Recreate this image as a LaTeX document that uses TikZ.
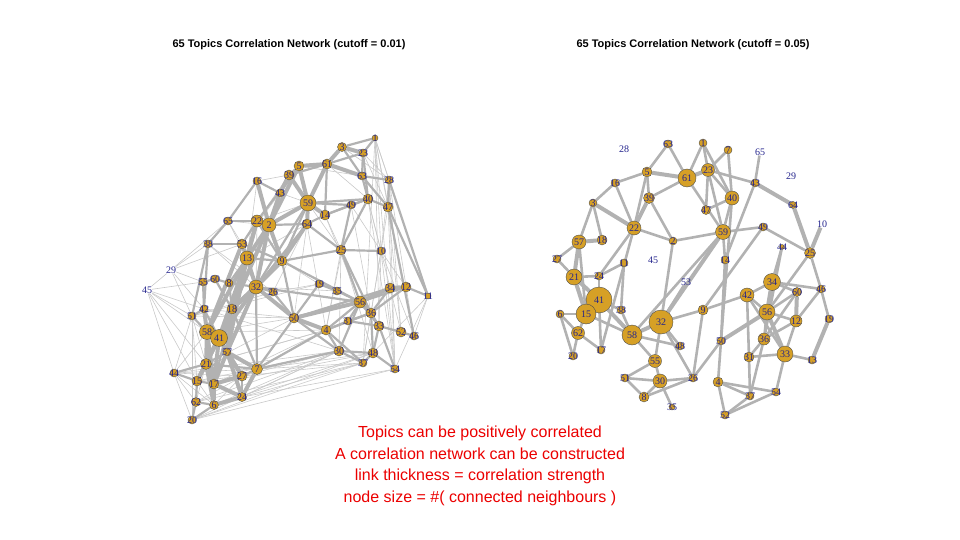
\documentclass[tikz,border=0pt]{standalone}
\usepackage{fontspec}
\setmainfont{Liberation Serif}
\newfontfamily\sansfont{Liberation Sans}
\usepackage{tikz}
\usetikzlibrary{backgrounds}
\usepackage{xcolor}
\definecolor{topicfill}{RGB}{214,160,38}
\definecolor{topiclabel}{RGB}{35,35,140}
\definecolor{linkgray}{RGB}{178,178,178}
\definecolor{notered}{RGB}{235,0,0}

\begin{document}
\begin{tikzpicture}[x=1pt, y=-1pt,
  topic/.style={circle, draw=black!70, line width=0.4pt, fill=topicfill, inner sep=0pt, minimum size=#1pt},
  tlabel/.style={text=topiclabel, font=\fontsize{10}{10}\selectfont, inner sep=0pt},
  biglink/.style={linkgray, line width=4pt},
  midlink/.style={linkgray, line width=2.2pt},
  thinlink/.style={linkgray!70, line width=0.6pt},
  heading/.style={font=\sansfont\bfseries\fontsize{11}{13}\selectfont}]
  \useasboundingbox (0,0) rectangle (960,540);

  % titles
  \node[heading] (titleL) at (289,45) {65 Topics Correlation Network (cutoff = 0.01)};
  \node[heading] (titleR) at (693,45) {65 Topics Correlation Network (cutoff = 0.05)};

  % left network (cutoff 0.01)
  \foreach \n/\x/\y/\s in {16/257/181/8, 39/289/175/10, 43/280/193/8, 65/228/221/8, 22/257/221/12,
    2/269/225/14, 38/208/244/8, 53/242/244/10, 13/247/258/14, 9/282/261/10, 1/375/138/6, 3/342/147/9,
    23/363/153/8, 5/299/166/10, 61/327/164/10, 63/362/176/8, 28/389/180/8, 59/308/203/16, 14/325/215/10,
    49/351/205/8, 40/368/199/10, 47/388/207/10, 64/307/224/10, 25/341/250/10, 10/381/251/8, 55/203/282/8,
    60/215/279/8, 8/229/283/8, 32/256/287/14, 26/273/292/8, 51/192/316/8, 42/204/309/8, 18/232/309/10,
    58/207/332/15, 41/219/338/17, 57/227/352/8, 21/206/364/11, 7/257/369/11, 44/174/373/8, 15/197/381/10,
    17/214/384/10, 27/242/376/10, 62/196/402/9, 6/214/405/9, 24/242/397/9, 20/192/420/8, 50/294/318/10,
    4/326/330/10, 56/360/302/12, 36/371/313/10, 31/348/321/8, 33/379/326/10, 52/401/332/10, 46/414/336/8,
    19/319/284/8, 35/337/291/8, 34/390/288/10, 12/406/287/10, 11/428/296/6, 30/339/351/10, 48/373/353/10,
    37/363/363/8, 54/395/369/8}
    \node[topic=\s, label={[tlabel]center:\n}] (L\n) at (\x,\y) {};
  \node[tlabel] (L29) at (171,270) {29};
  \node[tlabel] (L45) at (147,290) {45};

  \begin{scope}[on background layer]
    \foreach \a/\b in {29/38, 29/45, 29/55, 29/51, 45/51, 45/55, 45/44, 44/51, 44/62, 44/20, 44/27, 44/7,
      1/28, 1/47, 1/10, 1/11, 1/46, 1/54, 28/10, 28/46, 47/54, 47/52, 10/46, 10/54, 11/46, 11/54, 11/37,
      63/10, 40/52, 49/10, 49/36, 14/25, 64/50, 64/26, 25/4, 10/33, 10/12, 23/47, 3/28, 23/28,
      20/30, 20/37, 62/4, 6/30, 24/54, 24/37, 17/4, 27/30, 44/4, 20/48, 62/37, 15/30, 21/50, 58/50,
      42/50, 51/26, 51/19, 38/26, 65/2, 65/13, 16/13, 16/9, 38/32, 53/32, 22/32, 51/20, 51/21, 51/15,
      44/58, 62/21, 24/17, 24/7, 6/15, 20/15, 6/27, 44/6, 27/4, 7/37, 7/48, 32/35, 26/19, 9/19, 9/35,
      2/64, 59/25, 61/40, 5/63, 39/2, 39/22, 43/53, 43/59, 16/39, 65/53, 13/64, 22/59, 45/42, 29/65,
      1/37, 28/54, 47/37, 28/52, 1/33, 10/37, 40/54, 49/4, 25/30, 25/48, 14/56, 64/4, 20/54, 6/48,
      24/30, 62/30, 17/48, 15/37, 44/30, 21/4, 58/4, 42/30, 51/50, 45/58, 29/42, 45/21, 45/15, 29/53}
      \draw[thinlink] (L\a) -- (L\b);
    \foreach \a/\b in {16/43, 16/65, 65/22, 65/38, 38/53, 38/51, 38/42, 53/22, 53/9, 9/25, 9/50, 64/14,
      14/49, 49/40, 40/63, 40/47, 63/28, 28/47, 23/63, 3/1, 23/1, 5/39, 39/61, 61/59, 59/40, 59/49,
      64/25, 25/10, 25/56, 25/36, 14/40, 32/26, 26/50, 50/19, 19/35, 35/56, 56/4, 56/31, 36/33, 33/52,
      52/46, 12/11, 12/56, 36/12, 33/48, 48/54, 48/37, 30/48, 4/30, 30/37, 31/33, 4/31, 7/50, 7/4,
      7/30, 27/24, 24/6, 6/62, 62/15, 15/17, 20/62, 20/6, 21/7, 27/7, 44/15, 44/21, 51/42, 51/58,
      55/60, 60/8, 55/42, 8/18, 8/32, 60/18, 13/8, 42/41, 18/17, 57/21, 22/9, 13/9, 47/11, 47/46,
      40/25, 49/25, 28/11, 61/23, 3/63, 5/43, 9/56, 32/56, 50/34, 56/33, 36/34, 4/36, 31/36, 30/56,
      48/36, 54/33, 37/4, 50/30, 63/47, 23/40, 64/2, 64/32, 59/32, 5/22, 61/14, 59/9, 18/7, 32/7}
      \draw[midlink] (L\a) -- (L\b);
    \foreach \a/\b in {22/13, 2/13, 13/18, 13/41, 18/41, 41/21, 41/57, 21/17, 58/21, 21/15, 17/6,
      57/27, 57/7, 18/57, 32/18, 32/41, 9/32, 2/9, 2/59, 59/5, 5/61, 61/3, 39/59, 59/14, 59/64, 64/9,
      22/2, 53/13, 16/2, 61/63, 3/23, 32/50, 50/56, 56/36, 56/34, 34/12, 50/4, 58/41, 42/58, 53/58,
      13/32, 41/17, 57/24, 2/43, 39/43, 13/58, 22/18, 2/18, 2/32, 9/18, 32/57, 18/21, 41/15, 58/17,
      21/6, 17/24, 41/27, 57/17, 7/24, 13/57, 59/61, 5/2, 27/17, 6/24}
      \draw[biglink] (L\a) -- (L\b);
  \end{scope}

  % right network (cutoff 0.05)
  \foreach \n/\x/\y/\s in {63/668/144/8, 1/703/143/8, 7/728/150/8, 61/687/178/18, 23/708/170/13,
    5/647/172/10, 16/615/183/8, 39/649/198/11, 3/593/203/8, 40/732/198/14, 43/755/183/8, 47/706/210/9,
    64/793/205/7, 22/634/228/14, 57/579/242/14, 18/602/240/10, 2/673/241/8, 59/723/232/15, 49/763/227/8,
    44/782/247/5, 25/810/253/11, 11/624/263/8, 14/725/260/8, 27/557/259/8, 21/574/277/16, 24/599/276/8,
    41/599/300/26, 15/586/314/20, 6/560/314/8, 38/621/310/8, 32/661/322/24, 58/632/335/20, 62/578/333/13,
    20/573/356/8, 17/601/350/8, 48/680/346/8, 55/655/361/13, 51/625/378/8, 30/660/381/14, 26/693/378/8,
    8/644/397/10, 35/672/407/6, 34/772/282/17, 42/747/295/14, 60/797/292/9, 46/821/289/8, 9/703/310/10,
    56/767/312/16, 12/796/321/12, 19/829/319/8, 50/721/341/8, 36/764/339/12, 31/749/357/10,
    33/785/354/16, 13/812/360/8, 4/718/382/10, 37/750/396/8, 54/776/392/8, 52/725/415/8}
    \node[topic=\s, label={[tlabel]center:\n}] (R\n) at (\x,\y) {};
  \foreach \n/\x/\y in {28/624/149, 45/653/260, 53/686/282, 65/760/152, 29/791/176, 10/822/224}
    \node[tlabel] (R\n) at (\x,\y) {\n};

  \begin{scope}[on background layer]
    \foreach \a/\b in {63/61, 63/5, 1/61, 1/23, 1/40, 61/39, 61/59, 7/23, 7/40, 5/16, 5/39, 5/22,
      16/3, 16/22, 39/2, 3/57, 3/18, 22/2, 22/24, 22/17, 57/27, 57/15, 2/59, 2/32, 23/40, 23/47,
      23/43, 23/59, 43/65, 43/14, 40/47, 40/59, 40/50, 59/49, 59/14, 59/58, 49/25, 49/9, 44/34, 44/36,
      25/46, 25/56, 34/42, 34/60, 34/46, 42/56, 42/31, 42/9, 56/12, 56/60, 56/36, 46/19, 46/12, 12/33,
      12/36, 33/13, 33/54, 33/31, 36/31, 36/37, 31/37, 50/4, 50/26, 9/26, 9/32, 4/37, 4/52, 4/54,
      37/52, 52/54, 41/24, 41/38, 41/17, 15/6, 15/62, 15/58, 6/20, 6/62, 62/20, 62/17, 58/55, 58/38,
      58/48, 32/48, 32/26, 32/55, 55/30, 55/51, 30/51, 30/8, 30/35, 30/26, 8/51, 8/26, 24/21, 24/11,
      11/38, 14/50, 42/33, 60/36, 53/32, 27/21}
      \draw[midlink, line width=2.6pt] (R\a) -- (R\b);
    \foreach \a/\b in {61/5, 61/23, 57/18, 57/21, 41/15, 43/64, 64/25, 25/10, 60/12, 56/50, 19/13,
      22/39, 3/22, 59/32, 32/58, 41/21, 15/21, 56/33, 34/56, 58/41}
      \draw[biglink] (R\a) -- (R\b);
  \end{scope}

  % note
  \node[text=notered, font=\sansfont\fontsize{16}{21.5}\selectfont, align=center] (note) at (480,466)
    {Topics can be positively correlated\\A correlation network can be constructed\\
     link thickness = correlation strength\\node size = \#( connected neighbours )};
\end{tikzpicture}
\end{document}
